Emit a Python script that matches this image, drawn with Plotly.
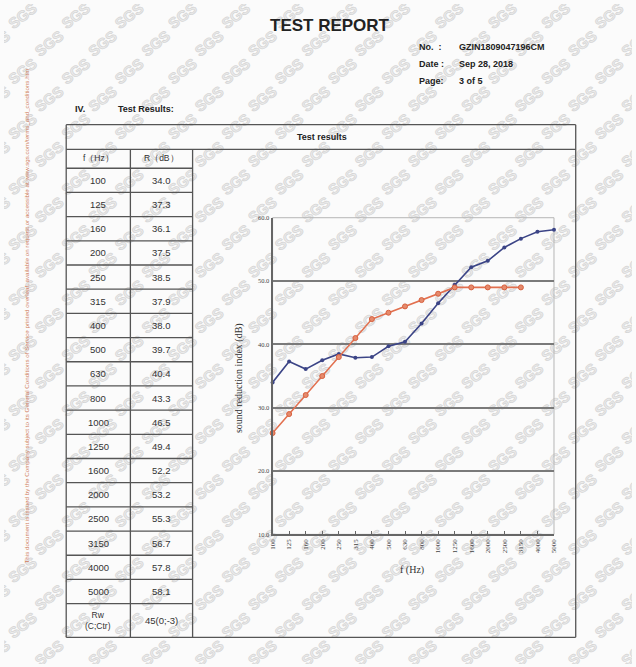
import base64
import plotly.graph_objects as go

W, H = 636, 667

freqs = ["100", "125", "160", "200", "250", "315", "400", "500", "630", "800",
         "1000", "1250", "1600", "2000", "2500", "3150", "4000", "5000"]
measured_R = [34.0, 37.3, 36.1, 37.5, 38.5, 37.9, 38.0, 39.7, 40.4, 43.3,
              46.5, 49.4, 52.2, 53.2, 55.3, 56.7, 57.8, 58.1]
reference_R = [26, 29, 32, 35, 38, 41, 44, 45, 46, 47, 48, 49, 49, 49, 49, 49]
rw_text = "Rw<br>(C;Ctr)"
rw_value = "45(0;-3)"
y_ticks = [10, 20, 30, 40, 50, 60]


def px(x):
    return x / W


def py(y):
    return 1 - y / H


fig = go.Figure()

idx = list(range(len(freqs)))
fig.add_trace(go.Scatter(
    x=idx, y=measured_R, mode="lines+markers",
    line=dict(color="#3b4486", width=1.6),
    marker=dict(size=4, color="#3b4486"),
    showlegend=False, cliponaxis=False))
fig.add_trace(go.Scatter(
    x=idx[:len(reference_R)], y=reference_R, mode="lines+markers",
    line=dict(color="#e2704f", width=1.6),
    marker=dict(size=5, color="#e58a6c", line=dict(color="#d8603e", width=1)),
    showlegend=False, cliponaxis=False))

annotations = []
shapes = []


def txt(x, y, text, size=9, color="#333", family="Liberation Sans", xanchor="center",
        angle=0):
    annotations.append(dict(x=px(x), y=py(y), xref="paper", yref="paper", text=text,
                            showarrow=False, xanchor=xanchor, yanchor="middle",
                            textangle=angle,
                            font=dict(family=family, size=size, color=color)))


# watermark as background svg image
parts = []
for r in range(-1, 26):
    for c in range(-1, 13):
        x = c * 54 + (27 if r % 2 else 0) + 22
        y = r * 28 + 16
        parts.append(
            f'<text x="{x}" y="{y}" transform="rotate(-38 {x} {y})" text-anchor="middle" '
            f'font-family="Liberation Sans" font-weight="bold" font-size="15" '
            f'fill="#ececec" stroke="#d6d6d6" stroke-width="0.8">SGS</text>')
svg = (f'<svg xmlns="http://www.w3.org/2000/svg" width="{W}" height="{H}" '
       f'viewBox="0 0 {W} {H}"><rect width="{W}" height="{H}" fill="#fbfbfb"/>'
       + "".join(parts) + "</svg>")
img_src = "data:image/svg+xml;base64," + base64.b64encode(svg.encode()).decode()

# header
txt(330, 22, "<b>TEST REPORT</b>", size=17, color="#222")
for ty, lab, val in [(43, "No.  :", "GZIN1809047196CM"),
                     (61, "Date :", "Sep 28, 2018"),
                     (78, "Page:", "3 of 5")]:
    txt(418, ty, "<b>" + lab + "</b>", size=9, color="#222", xanchor="left")
    txt(459, ty, "<b>" + val + "</b>", size=9, color="#222", xanchor="left")
txt(70, 106, "<b>IV.</b>", size=9, color="#222", xanchor="left")
txt(113, 106, "<b>Test Results:</b>", size=9, color="#222", xanchor="left")

# side text
txt(23, 315, ("This document is issued by the Company subject to its General Conditions of Service printed overleaf, "
              "available on request or accessible at www.sgs.com/terms_and_conditions.htm"),
    size=6.2, color="#d0805e", angle=-90)

# table
L, C1, C2, R = 63, 128, 191, 579
T, HB, CB, RB, B = 122, 147, 166, 606, 640
line_col = "#555"


def hline(x0, x1, y, w=1.3):
    shapes.append(dict(type="line", xref="paper", yref="paper", x0=px(x0), x1=px(x1),
                       y0=py(y), y1=py(y), line=dict(color=line_col, width=w)))


def vline(x, y0, y1, w=1.3):
    shapes.append(dict(type="line", xref="paper", yref="paper", x0=px(x), x1=px(x),
                       y0=py(y0), y1=py(y1), line=dict(color=line_col, width=w)))


hline(L, R, T)
hline(L, R, HB)
hline(L, R, B)
vline(L, T, B)
vline(R, T, B)
vline(C1, HB, B)
vline(C2, HB, B)
hline(L, C2, CB)
row_h = (RB - CB) / len(freqs)
for i in range(len(freqs)):
    hline(L, C2, CB + (i + 1) * row_h)

txt(322, 134, "<b>Test results</b>", size=9, color="#222")
txt((L + C1) / 2, 156, "f（Hz）", size=8.5)
txt((C1 + C2) / 2, 156, "R（dB）", size=8.5)
for i, (f, r) in enumerate(zip(freqs, measured_R)):
    yc = CB + (i + 0.5) * row_h
    txt((L + C1) / 2, yc, f, size=9.5)
    txt((C1 + C2) / 2, yc, f"{r:.1f}", size=9.5)
txt((L + C1) / 2, (RB + B) / 2, rw_text, size=8.5)
txt((C1 + C2) / 2, (RB + B) / 2, rw_value, size=9.5)

# chart frame (light border top/right)
shapes.append(dict(type="rect", xref="paper", yref="paper", x0=px(272), x1=px(557),
                   y0=py(536), y1=py(216), line=dict(color="#b5b5b5", width=1), layer="below"))

# axis titles
txt(238, 378, "sound reduction index (dB)", size=10, family="Liberation Serif", angle=-90)
txt(413, 572, "f (Hz)", size=10, family="Liberation Serif")

fig.update_layout(
    width=W, height=H, margin=dict(l=0, r=0, t=0, b=0),
    paper_bgcolor="#fbfbfb", plot_bgcolor="rgba(0,0,0,0)",
    annotations=annotations, shapes=shapes,
    images=[dict(source=img_src, xref="paper", yref="paper", x=0, y=1,
                 sizex=1, sizey=1, xanchor="left", yanchor="top",
                 sizing="stretch", layer="below")],
    xaxis=dict(domain=[px(272), px(557)], range=[0, len(freqs) - 1],
               tickvals=idx, ticktext=freqs, tickangle=-90,
               showgrid=False, zeroline=False, showline=True, linecolor="#666", linewidth=2,
               ticks="inside", ticklen=3, tickcolor="#666",
               tickfont=dict(family="Liberation Serif", size=7, color="#444")),
    yaxis=dict(domain=[py(536), py(216)], range=[10, 60], tickvals=y_ticks,
               tickformat=".1f", showgrid=True, gridcolor="#7a7a7a", gridwidth=1.5,
               zeroline=False, showline=True, linecolor="#666", linewidth=2,
               tickfont=dict(family="Liberation Serif", size=6.5, color="#444")),
)

fig.write_html("out.html", config={"displayModeBar": False},
               post_script="document.body.style.margin='0';")
